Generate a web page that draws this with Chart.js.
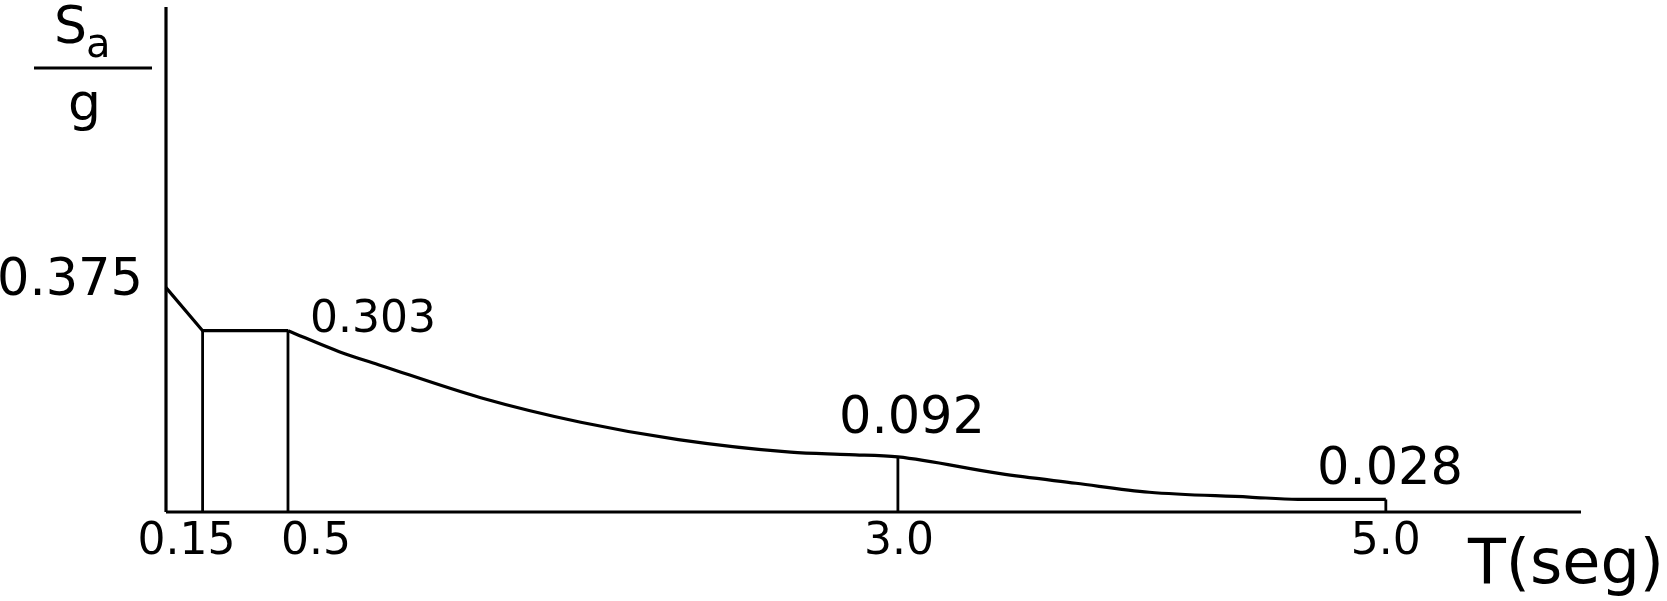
<!DOCTYPE html>
<html>
<head>
<meta charset="utf-8">
<script src="https://cdn.jsdelivr.net/npm/chart.js@4.4.1/dist/chart.umd.min.js"></script>
<style>
  html, body { margin: 0; padding: 0; background: #fff; }
  canvas { display: block; }
</style>
</head>
<body>
<canvas id="spectrumChart" width="1667" height="601"></canvas>
<script>
// Period T (seg) and spectral ordinate Sa/g
const periods  = [0, 0.15, 0.5, 0.71, 0.88, 1.29, 1.7, 2.1, 2.56, 2.8, 3.0, 3.42, 3.73, 4.03, 4.44, 4.64, 5.0];
const spectrum = [0.375, 0.303, 0.303, 0.268, 0.245, 0.191, 0.150, 0.121, 0.100, 0.096, 0.092, 0.064, 0.048, 0.033, 0.025, 0.021, 0.021];

// vertical drop lines and their tick labels
const dropPeriods = [0.15, 0.5, 3.0, 5.0];
const tickLabels = ['0.15', '0.5', '3.0', '5.0'];

// value callouts
const valueLabels = ['0.375', '0.303', '0.092', '0.028'];

const xMax = 5.8;
const yMax = 0.844;
const FONT = "'DejaVu Sans', sans-serif";

function valueAt(t) {
    const i = periods.indexOf(t);
    return i >= 0 ? spectrum[i] : 0;
}

const lineStyle = {
    borderColor: '#000',
    borderWidth: 3.2,
    pointRadius: 0,
    tension: 0,
    fill: false,
    clip: false
};

const pts = periods.map((t, i) => ({ x: t, y: spectrum[i] }));
const plateauEnd = periods.indexOf(0.5);

const datasets = [];
// axes
datasets.push(Object.assign({ data: [{ x: 0, y: 0 }, { x: 0, y: yMax }] }, lineStyle));
datasets.push(Object.assign({ data: [{ x: 0, y: 0 }, { x: xMax, y: 0 }] }, lineStyle));
// spectrum: straight ramp + plateau, then the descending branch
datasets.push(Object.assign({ data: pts.slice(0, plateauEnd + 1) }, lineStyle));
datasets.push(Object.assign({ data: pts.slice(plateauEnd) }, lineStyle, { cubicInterpolationMode: 'monotone' }));
// drop lines
dropPeriods.forEach(t => {
    datasets.push(Object.assign({ data: [{ x: t, y: 0 }, { x: t, y: valueAt(t) }] }, lineStyle, { borderWidth: 2.8 }));
});

const labelsPlugin = {
    id: 'labels',
    afterDraw(chart) {
        const ctx = chart.ctx;
        const xs = chart.scales.x;
        const ys = chart.scales.y;
        const base = ys.getPixelForValue(0);
        ctx.save();
        ctx.fillStyle = '#000';
        ctx.textBaseline = 'alphabetic';

        // tick labels under the axis
        const tickShift = [-16, 28, 1, 0];
        ctx.font = '44px ' + FONT;
        ctx.textAlign = 'center';
        tickLabels.forEach((txt, i) => {
            ctx.fillText(txt, xs.getPixelForValue(dropPeriods[i]) + tickShift[i], base + 42);
        });

        // value callouts (left x, baseline y, size)
        const spots = [[-3, 295, 51], [310, 332, 44], [839, 433, 51], [1317, 484, 51]];
        ctx.textAlign = 'left';
        valueLabels.forEach((txt, i) => {
            const s = spots[i];
            ctx.font = s[2] + 'px ' + FONT;
            ctx.fillText(txt, s[0], s[1]);
        });

        // axis titles
        ctx.font = '62px ' + FONT;
        ctx.fillText('T(seg)', 1468, 583);

        ctx.font = '52px ' + FONT;
        ctx.fillText('S', 54, 43);
        ctx.font = '40px ' + FONT;
        ctx.fillText('a', 86, 57);
        ctx.font = '52px ' + FONT;
        ctx.fillText('g', 68, 120);

        ctx.strokeStyle = '#000';
        ctx.lineWidth = 3;
        ctx.beginPath();
        ctx.moveTo(34, 68);
        ctx.lineTo(152, 68);
        ctx.stroke();
        ctx.restore();
    }
};

new Chart(document.getElementById('spectrumChart').getContext('2d'), {
    type: 'line',
    data: { datasets: datasets },
    options: {
        responsive: false,
        animation: false,
        layout: { padding: { left: 166, right: 86, top: 7, bottom: 89 } },
        plugins: {
            legend: { display: false },
            tooltip: { enabled: false },
            title: { display: false }
        },
        scales: {
            x: { type: 'linear', min: 0, max: xMax, display: false },
            y: { type: 'linear', min: 0, max: yMax, display: false }
        }
    },
    plugins: [labelsPlugin]
});
</script>
</body>
</html>
